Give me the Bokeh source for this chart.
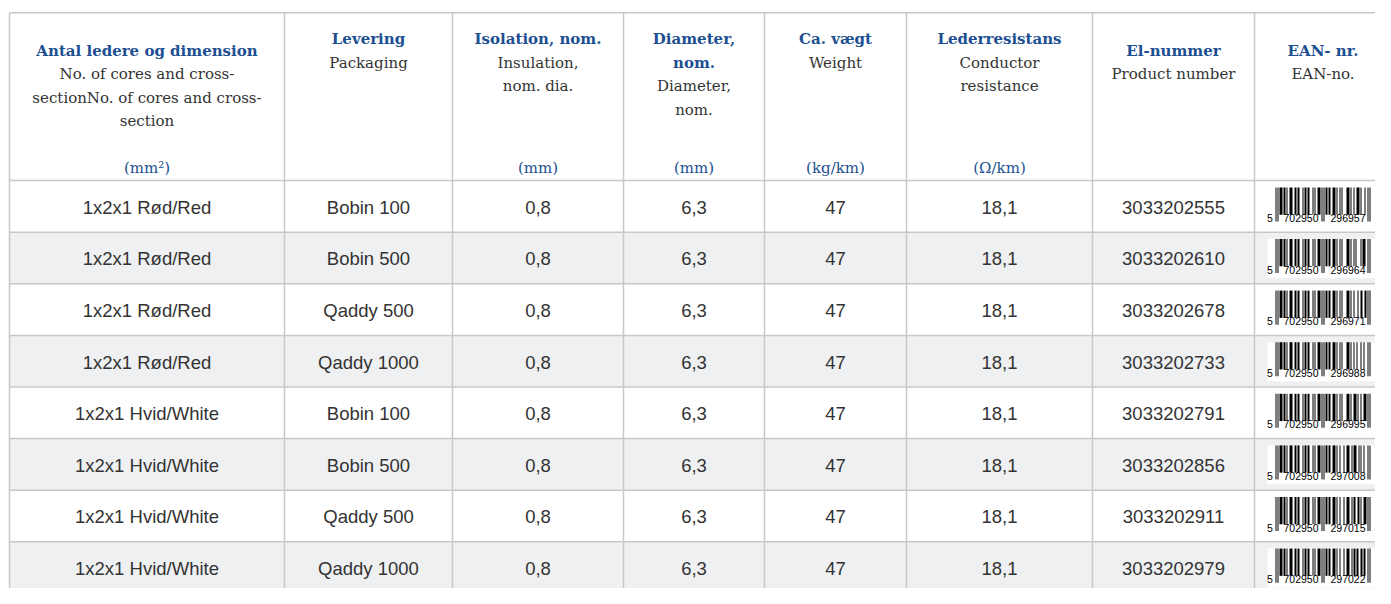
from bokeh.plotting import figure
from bokeh.models import Range1d
from bokeh.core.properties import value
from bokeh.embed import file_html
from bokeh.resources import INLINE

# ---------------- data ----------------
dimension = ["1x2x1 Rød/Red", "1x2x1 Rød/Red", "1x2x1 Rød/Red", "1x2x1 Rød/Red",
             "1x2x1 Hvid/White", "1x2x1 Hvid/White", "1x2x1 Hvid/White", "1x2x1 Hvid/White"]
packaging = ["Bobin 100", "Bobin 500", "Qaddy 500", "Qaddy 1000",
             "Bobin 100", "Bobin 500", "Qaddy 500", "Qaddy 1000"]
insulation = ["0,8", "0,8", "0,8", "0,8", "0,8", "0,8", "0,8", "0,8"]
diameter = ["6,3", "6,3", "6,3", "6,3", "6,3", "6,3", "6,3", "6,3"]
weight = ["47", "47", "47", "47", "47", "47", "47", "47"]
resistance = ["18,1", "18,1", "18,1", "18,1", "18,1", "18,1", "18,1", "18,1"]
product_number = ["3033202555", "3033202610", "3033202678", "3033202733",
                  "3033202791", "3033202856", "3033202911", "3033202979"]
ean = ["5702950296957", "5702950296964", "5702950296971", "5702950296988",
       "5702950296995", "5702950297008", "5702950297015", "5702950297022"]

header_titles = [["Antal ledere og dimension"], ["Levering"], ["Isolation, nom."],
                 ["Diameter,", "nom."], ["Ca. vægt"], ["Lederresistans"],
                 ["El-nummer"], ["EAN- nr."]]
header_subtitles = [["No. of cores and cross-", "sectionNo. of cores and cross-", "section"],
                    ["Packaging"], ["Insulation,", "nom. dia."], ["Diameter,", "nom."],
                    ["Weight"], ["Conductor", "resistance"], ["Product number"], ["EAN-no."]]
header_units = ["(mm²)", "", "(mm)", "(mm)", "(kg/km)", "(Ω/km)", "", ""]

# ---------------- layout (style) ----------------
W, H = 1375, 588
SRC_H = 604
col_edges = [9, 284, 452, 623, 764, 906, 1092, 1254, 1391]
header_start = [52, 40, 40, 40, 40, 40, 52, 52]
table_top = 12.5
header_bottom = 185
row_h = 53
line_gap = 24
unit_y = 172
BLUE = "#1d4f91"
TEXT = "#333333"
GRID = "#c8c8c8"
SHADE = "#eff0f2"

centers = [(col_edges[i] + col_edges[i + 1]) / 2 for i in range(len(col_edges) - 1)]
n_rows = len(dimension)
row_tops = [header_bottom + i * row_h for i in range(n_rows)]

p = figure(width=W, height=H, x_range=Range1d(0, W), y_range=Range1d(SRC_H, 0),
           output_backend="svg", toolbar_location=None,
           x_axis_type=None, y_axis_type=None, min_border=0)
p.outline_line_color = None
p.background_fill_color = "white"
p.border_fill_color = "white"

# shaded rows
shade_idx = [i for i in range(n_rows) if i % 2 == 1]
p.quad(left=[col_edges[0]] * len(shade_idx), right=[1420] * len(shade_idx),
       top=[row_tops[i] for i in shade_idx], bottom=[row_tops[i] + row_h for i in shade_idx],
       fill_color=SHADE, line_color=None)

# grid lines
hy = [table_top, header_bottom] + [t + row_h for t in row_tops]
p.segment(x0=[col_edges[0]] * len(hy), x1=[1420] * len(hy), y0=hy, y1=hy,
          line_color=GRID, line_width=1.5)
vx = col_edges[:-1]
bottom_y = row_tops[-1] + row_h
p.segment(x0=vx, x1=vx, y0=[table_top] * len(vx), y1=[bottom_y] * len(vx),
          line_color=GRID, line_width=1.5)

# header texts
tx, ty, tt = [], [], []
sx, sy, st = [], [], []
ux, uy, ut = [], [], []
for c in range(len(header_titles)):
    y = header_start[c]
    for line in header_titles[c]:
        tx.append(centers[c]); ty.append(y); tt.append(line); y += line_gap
    for line in header_subtitles[c]:
        sx.append(centers[c]); sy.append(y); st.append(line); y += line_gap
    if header_units[c]:
        ux.append(centers[c]); uy.append(unit_y); ut.append(header_units[c])

serif = value("DejaVu Serif")
p.text(x=tx, y=ty, text=tt, text_font=serif, text_font_style="bold", text_font_size="15px",
       text_color=BLUE, text_align="center", text_baseline="middle")
p.text(x=sx, y=sy, text=st, text_font=serif, text_font_size="15px",
       text_color=TEXT, text_align="center", text_baseline="middle")
p.text(x=ux, y=uy, text=ut, text_font=serif, text_font_size="15px",
       text_color=BLUE, text_align="center", text_baseline="middle")

# body texts
columns = [dimension, packaging, insulation, diameter, weight, resistance, product_number]
bx, by, bt = [], [], []
for c, col in enumerate(columns):
    for r, v in enumerate(col):
        bx.append(centers[c]); by.append(row_tops[r] + row_h / 2 + 1); bt.append(v)
p.text(x=bx, y=by, text=bt, text_font=value("Liberation Sans"), text_font_size="18.5px",
       text_color=TEXT, text_align="center", text_baseline="middle")

# barcodes (EAN-13 encoding of the ean values)
L = ["0001101", "0011001", "0010011", "0111101", "0100011",
     "0110001", "0101111", "0111011", "0110111", "0001011"]
R = ["1110010", "1100110", "1101100", "1000010", "1011100",
     "1001110", "1010000", "1000100", "1001000", "1110100"]
G = [r[::-1] for r in R]
PAR = ["LLLLLL", "LLGLGG", "LLGGLG", "LLGGGL", "LGLLGG",
       "LGGLLG", "LGGGLG", "LGGGGL", "LGLGLG", "LGLGGL"]


def encode(code):
    d = [int(ch) for ch in code]
    bits = "101"
    for i in range(6):
        bits += (L if PAR[d[0]][i] == "L" else G)[d[i + 1]]
    bits += "01010"
    for i in range(6):
        bits += R[d[i + 7]]
    bits += "101"
    return bits


guard = set([0, 1, 2, 45, 46, 47, 48, 49, 92, 93, 94])
bc_x = centers[7]
x0 = bc_x - 47.5
bl, br, btp, bbt = [], [], [], []
wl, wr, wt, wb = [], [], [], []
dx, dy, dt = [], [], []
for r, code in enumerate(ean):
    top = row_tops[r]
    wl.append(bc_x - 55.5); wr.append(bc_x + 55.5); wt.append(top + 7); wb.append(top + 47)
    bits = encode(code)
    i = 0
    while i < len(bits):
        if bits[i] == "1":
            j = i
            while j < len(bits) and bits[j] == "1":
                j += 1
            bl.append(x0 + i); br.append(x0 + j); btp.append(top + 7)
            bbt.append(top + (42 if i in guard else 35))
            i = j
        else:
            i += 1
    dx += [x0 - 5.5, x0 + 25.5, x0 + 72.5]
    dy += [top + 38.5] * 3
    dt += [code[0], code[1:7], code[7:]]

p.quad(left=wl, right=wr, top=wt, bottom=wb, fill_color="white", line_color=None)
p.quad(left=bl, right=br, top=btp, bottom=bbt, fill_color="black", line_color=None)
p.text(x=dx, y=dy, text=dt, text_font=value("Liberation Sans"), text_font_size="10.5px",
       text_color="black", text_align="center", text_baseline="middle")

open("out.html", "w").write(file_html(p, INLINE))
